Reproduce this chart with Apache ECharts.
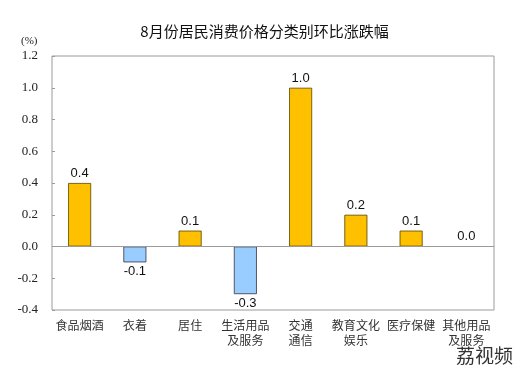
<!DOCTYPE html>
<html>
<head>
<meta charset="utf-8">
<script src="https://cdn.jsdelivr.net/npm/echarts@6/dist/echarts.min.js"></script>
<style>
  html, body { margin: 0; padding: 0; background: #fff; }
  #chart { width: 529px; height: 378px; }
</style>
</head>
<body>
<div id="chart"></div>
<script>
// 分类名称
let categories = ['食品烟酒', '衣着', '居住', '生活用品\n及服务', '交通\n通信', '教育文化\n娱乐', '医疗保健', '其他用品\n及服务'];
// 环比涨跌幅(%)
let values = [0.4, -0.1, 0.1, -0.3, 1.0, 0.2, 0.1, 0.0];
// y轴刻度
let yTicks = [-0.4, -0.2, 0.0, 0.2, 0.4, 0.6, 0.8, 1.0, 1.2];

(function () {
  let myChart = echarts.init(document.getElementById('chart'));

  let option = {
    animation: false,
    title: {
      text: '8月份居民消费价格分类别环比涨跌幅',
      left: 'center',
      top: 19,
      textStyle: { fontSize: 15, fontWeight: 'normal', color: '#111', fontFamily: 'Noto Sans CJK SC' }
    },
    graphic: [
      { type: 'text', left: 21, top: 36, style: { text: '(%)', fontSize: 11, fontFamily: 'Liberation Serif', fill: '#222' } },
      { type: 'text', right: 16, top: 346, style: { text: '荔视频', fontSize: 19, fontFamily: 'Noto Sans CJK SC', fill: '#333' } }
    ],
    grid: {
      left: 52, right: 35, top: 56, bottom: 68,
      show: true, borderColor: '#9a9a9a', borderWidth: 1
    },
    xAxis: {
      type: 'category',
      data: categories,
      axisLine: { show: false },
      axisTick: { show: false },
      axisLabel: {
        interval: 0, color: '#333', fontSize: 12, lineHeight: 15,
        fontFamily: 'Noto Sans CJK SC', margin: 8
      }
    },
    yAxis: {
      type: 'value',
      min: yTicks[0],
      max: yTicks[yTicks.length - 1],
      interval: 0.2,
      splitLine: { show: false },
      axisLine: { show: false },
      axisTick: { show: true, inside: true, length: 3, lineStyle: { color: '#9a9a9a' } },
      axisLabel: {
        color: '#222', fontSize: 13, fontFamily: 'Liberation Serif', margin: 14,
        formatter: function (v) { return v.toFixed(1); }
      }
    },
    series: [
      {
        type: 'bar',
        barWidth: 23,
        data: values.map(function (v) {
          return {
            value: v,
            itemStyle: v < 0
              ? { color: '#99ccff', borderColor: '#334', borderWidth: 0.8 }
              : { color: '#ffc000', borderColor: '#554400', borderWidth: 0.8 },
            label: { position: v < 0 ? 'bottom' : 'top' }
          };
        }),
        label: {
          show: true, fontSize: 13, color: '#111', fontFamily: 'Liberation Sans', distance: 3,
          formatter: function (p) { return p.value.toFixed(1); }
        },
        markLine: {
          silent: true,
          symbol: 'none',
          label: { show: false },
          lineStyle: { color: '#9a9a9a', type: 'solid', width: 1 },
          data: [{ yAxis: 0 }]
        }
      }
    ]
  };

  myChart.setOption(option);
})();
</script>
</body>
</html>
